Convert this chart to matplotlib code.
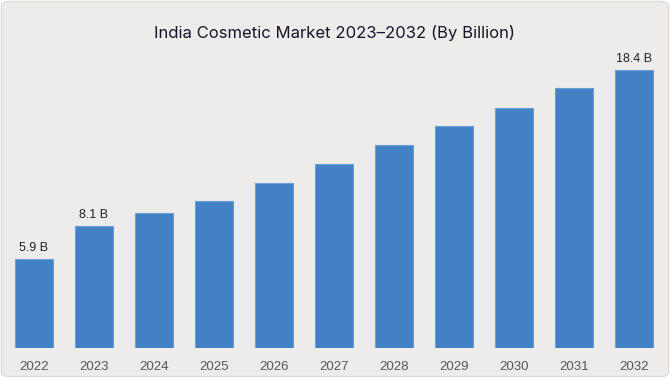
import matplotlib
matplotlib.use("Agg")
import matplotlib.pyplot as plt
from matplotlib.patches import FancyBboxPatch

years = ["2022", "2023", "2024", "2025", "2026", "2027", "2028", "2029", "2030", "2031", "2032"]
values = [5.9, 8.1, 8.9, 9.7, 10.9, 12.2, 13.4, 14.7, 15.9, 17.2, 18.4]
label_flags = [True, True, False, False, False, False, False, False, False, False, True]
title = "India Cosmetic Market 2023\u20132032 (By Billion)"

W, H = 670, 378
fig = plt.figure(figsize=(W / 100, H / 100), dpi=100, facecolor="white")

bg = FancyBboxPatch((1.5 / W, 1.5 / H), (W - 3) / W, (H - 3) / H,
                    boxstyle="round,pad=0,rounding_size=0.012",
                    transform=fig.transFigure, facecolor="#eeeceb",
                    edgecolor="#dcdcdc", linewidth=1.0, zorder=-10)
fig.patches.append(bg)

base_px = 348
px_per_unit = 15.12
ymax = 20
ax = fig.add_axes([0, (H - base_px) / H, 1, ymax * px_per_unit / H], zorder=5)
ax.set_facecolor("none")
ax.patch.set_alpha(0)
x = list(range(len(years)))
bars = ax.bar(x, values, width=38 / 60, color="#4181c4", edgecolor="#6b9ed3", linewidth=0.8)
ax.set_xlim(-34 / 60, -34 / 60 + W / 60)
ax.set_ylim(0, ymax)
for s in ax.spines.values():
    s.set_visible(False)
ax.set_yticks([])
ax.set_xticks(x)
ax.set_xticklabels(years, fontsize=9.5, color="#555555", family="Liberation Sans")
ax.tick_params(axis="x", length=0, pad=9)

for xi, v, f in zip(x, values, label_flags):
    if f:
        ax.annotate(f"{v} B", (xi, v), xytext=(0, 3.5), textcoords="offset points",
                    ha="center", va="bottom", fontsize=9, color="#222222",
                    family="Liberation Sans")

fig.text(334 / W, 1 - 33 / H, title, ha="center", va="center", fontsize=12,
         color="#16162a", family="Inter")

fig.savefig("out.png", dpi=100, facecolor=fig.get_facecolor())
